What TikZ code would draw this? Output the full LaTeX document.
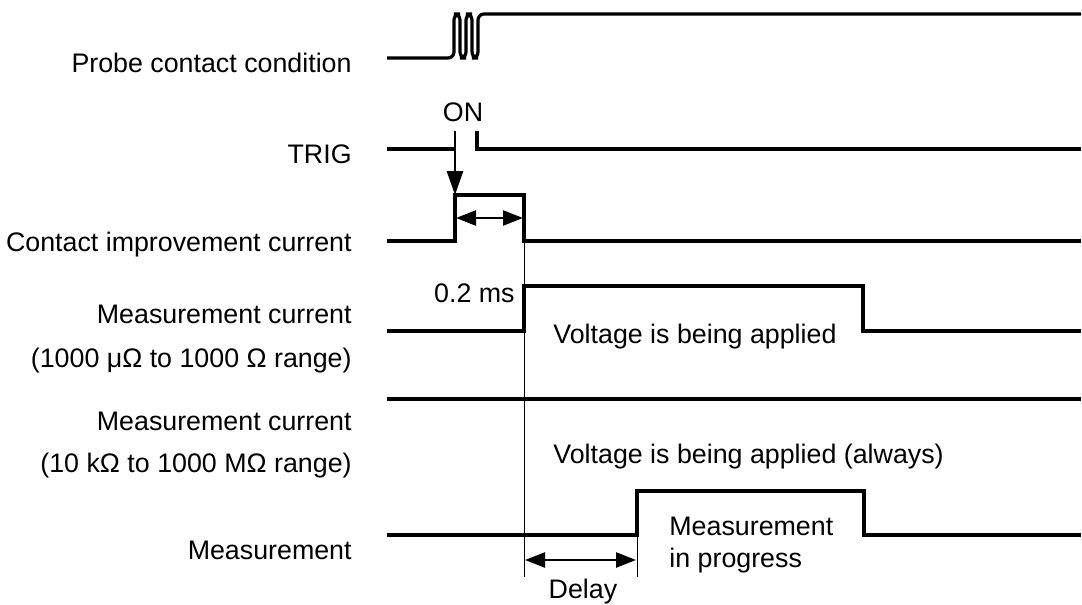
\documentclass[tikz,border=0pt]{standalone}
\usepackage{fontspec}
\setmainfont{Liberation Sans}
\usepackage{tikz}
\usetikzlibrary{arrows.meta}

\begin{document}
\begin{tikzpicture}[x=0.5pt, y=-0.5pt,
    sig/.style={line width=1.6pt, line join=miter},
    mark line/.style={line width=0.5pt},
    dim/.style={line width=1.2pt, {Triangle[length=10pt,width=7.5pt]}-{Triangle[length=10pt,width=7.5pt]}},
    lbl/.style={inner sep=0pt, font=\fontsize{13.4}{16}\selectfont}]
  \useasboundingbox (0,0) rectangle (1082,605);

  % left labels
  \node[lbl, anchor=base east] (probe) at (352,72) {Probe contact condition};
  \node[lbl, anchor=base east] (trig) at (352,163) {TRIG};
  \node[lbl, anchor=base east] (contact) at (352,251) {Contact improvement current};
  \node[lbl, anchor=base east] (meas1a) at (352,323) {Measurement current};
  \node[lbl, anchor=base east] (meas1b) at (352,367) {(1000 μΩ to 1000 Ω range)};
  \node[lbl, anchor=base east] (meas2a) at (352,430) {Measurement current};
  \node[lbl, anchor=base east] (meas2b) at (352,472) {(10 kΩ to 1000 MΩ range)};
  \node[lbl, anchor=base east] (meas) at (352,559) {Measurement};

  % time marks
  \coordinate (on) at (455,195);
  \coordinate (off) at (524,241);
  \coordinate (start) at (637,535);

  % signals
  \draw[sig, rounded corners=3pt] (387,58) -| (454,14) -| (460,58) -| (466,14) -| (472,58) -| (478,14) -- (1081,14);
  \draw[sig] (387,149) -- (455,149);
  \draw[sig] (477,131) |- (1081,149);
  \draw[sig] (387,241) -| (on) -| (off) -- (1081,241);
  \draw[sig] (387,331) -| (524,286) -| (863,331) -- (1081,331);
  \draw[sig] (387,399) -- (1081,399);
  \draw[sig] (387,535) -| (637,491) -| (864,535) -- (1081,535);

  \draw[line width=1.4pt, -{Triangle[length=12pt,width=8pt]}] (455,131) -- (on);
  \draw[mark line] (off) -- (524,577);
  \draw[mark line] (start) -- (637,577);
  \draw[dim] (456,218) -- (523,218);
  \draw[dim] (525,560) -- (636,560);

  % texts in the chart
  \node[lbl, anchor=base] (ontext) at (463,121) {ON};
  \node[lbl, anchor=base east] (width) at (515,302) {0.2 ms};
  \node[lbl, anchor=base west] (volt) at (553,343) {Voltage is being applied};
  \node[lbl, anchor=base west] (always) at (553,463) {Voltage is being applied (always)};
  \node[lbl, anchor=base west] (prog1) at (669,535) {Measurement};
  \node[lbl, anchor=base west] (prog2) at (669,567) {in progress};
  \node[lbl, anchor=base] (delay) at (583,598) {Delay};
\end{tikzpicture}
\end{document}
